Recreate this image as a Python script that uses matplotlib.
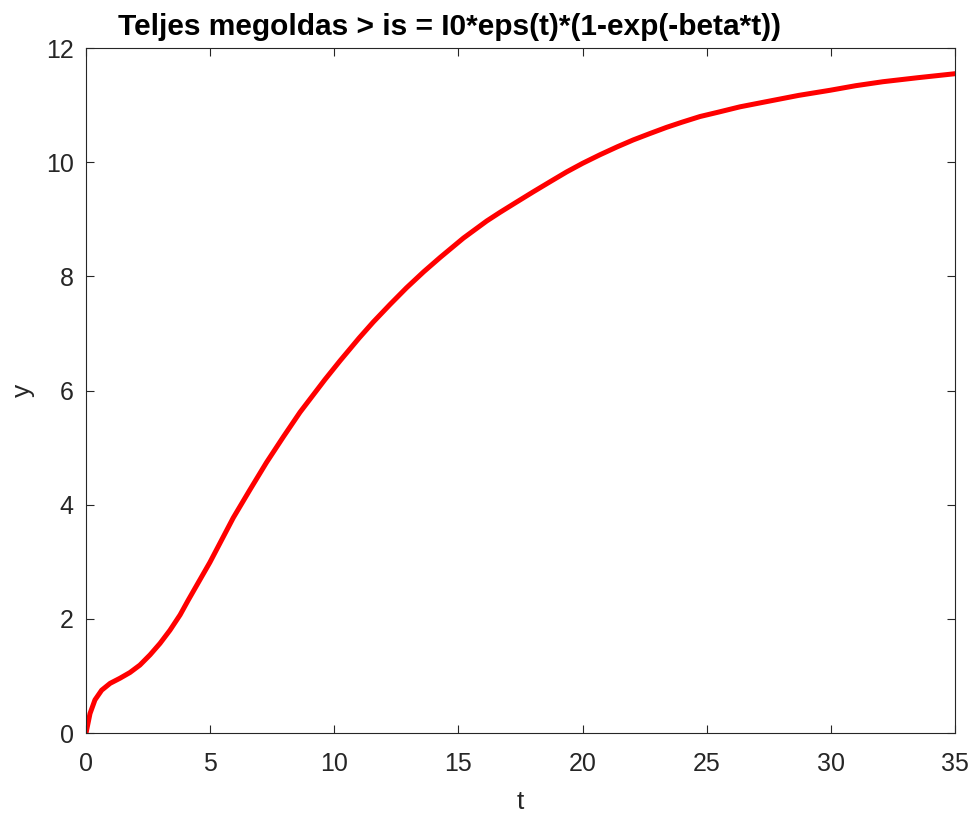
import matplotlib
matplotlib.use("Agg")
import matplotlib.pyplot as plt

plt.rcParams['font.family'] = ['Liberation Sans', 'DejaVu Sans']

# points
t = [0, 0.16, 0.36, 0.63, 0.97, 1.37, 1.77, 2.17, 2.58, 2.98, 3.38, 3.79,
     4.12, 4.66, 4.99, 5.93, 6.6, 7.27, 7.95, 8.62, 9.62, 10.23, 11.0, 11.57,
     12.25, 12.91, 13.6, 14.26, 15.2, 16.14, 16.67, 17.3, 18.01, 18.7, 19.36,
     20.0, 20.7, 21.4, 22.04, 22.7, 23.38, 24.0, 24.73, 25.5, 26.34, 27.4,
     28.7, 29.97, 31.0, 32.1, 33.5, 35.0]
y = [0, 0.34, 0.58, 0.75, 0.87, 0.96, 1.06, 1.19, 1.37, 1.57, 1.80, 2.07,
     2.33, 2.74, 2.99, 3.77, 4.26, 4.74, 5.19, 5.62, 6.19, 6.52, 6.92, 7.2,
     7.51, 7.80, 8.08, 8.33, 8.67, 8.97, 9.12, 9.29, 9.48, 9.66, 9.83,
     9.98, 10.13, 10.27, 10.39, 10.5, 10.61, 10.7, 10.8, 10.88, 10.97, 11.06,
     11.17, 11.26, 11.34, 11.41, 11.48, 11.55]

xticks = [0, 5, 10, 15, 20, 25, 30, 35]
yticks = [0, 2, 4, 6, 8, 10, 12]
title = "Teljes megoldas > is = I0*eps(t)*(1-exp(-beta*t))"

fig = plt.figure(figsize=(9.72, 8.14), dpi=100)
ax = fig.add_axes([0.0885, 0.0995, 0.894, 0.8415])

ax.plot(t, y, color='red', linewidth=3.6, solid_joinstyle='round')

ax.set_xlim(0, 35)
ax.set_ylim(0, 12)
ax.set_xticks(xticks)
ax.set_yticks(yticks)
ax.tick_params(direction='in', top=True, right=True, length=6, width=0.8,
               colors='#262626', labelsize=18, pad=9)
ax.tick_params(axis='x', pad=14)
for s in ax.spines.values():
    s.set_color('#262626')
    s.set_linewidth(0.8)

ax.set_xlabel('t', fontsize=19, color='#262626', labelpad=10)
ax.set_ylabel('y', fontsize=19, color='#262626', labelpad=8)
fig.text(118 / 972, 1 - 35 / 814, title, fontsize=21.5, fontweight='bold',
         ha='left', va='baseline')

fig.savefig('out.png', dpi=100)
